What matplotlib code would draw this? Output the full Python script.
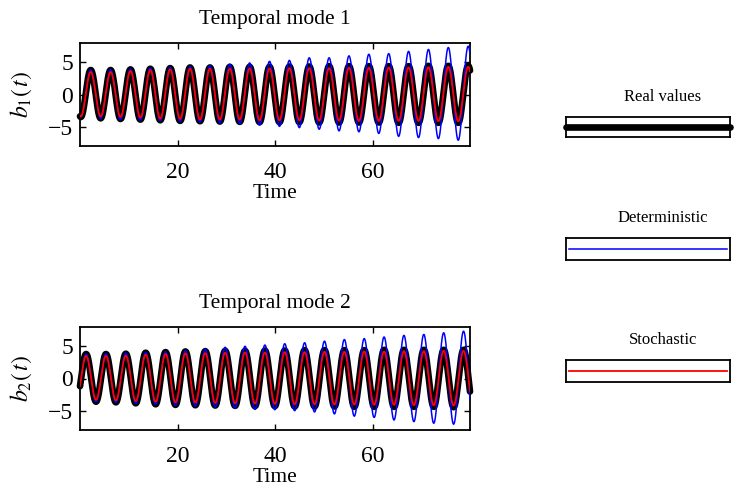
import numpy as np
import matplotlib
matplotlib.use('Agg')
import matplotlib.pyplot as plt

plt.rcParams['font.family'] = ['Liberation Serif', 'DejaVu Serif']
plt.rcParams['mathtext.fontset'] = 'stix'

# ---------------- data ----------------
period = 4.075
mode1_first_peak = 2.2      # time of first maximum of b1
mode2_first_peak = 1.25     # time of first maximum of b2

# Mode 1 : successive maxima / minima (one per oscillation)
m1_real_peaks = [3.8, 3.8, 3.9, 4.0, 4.1, 4.2, 4.2, 4.3, 4.3, 4.3,
                 4.35, 4.35, 4.4, 4.4, 4.4, 4.4, 4.4, 4.45, 4.45, 4.45]
m1_real_troughs = [-3.5, -3.7, -3.8, -3.9, -4.0, -4.1, -4.15, -4.2, -4.25, -4.3,
                   -4.3, -4.3, -4.35, -4.35, -4.35, -4.35, -4.4, -4.4, -4.4, -4.4]
m1_det_peaks = [3.8, 3.85, 3.95, 4.1, 4.2, 4.3, 4.45, 4.7, 4.9, 5.15,
                5.3, 5.7, 5.7, 6.0, 6.25, 6.35, 6.7, 7.0, 7.3, 7.5]
m1_det_troughs = [-3.5, -3.75, -3.9, -4.0, -4.1, -4.2, -4.3, -4.4, -4.5, -4.75,
                  -4.95, -5.15, -5.4, -5.65, -5.8, -6.05, -6.5, -6.7, -6.85, -7.1]
m1_sto_peaks = [3.5, 3.5, 3.65, 3.8, 3.9, 4.0, 4.0, 4.0, 4.05, 4.05,
                4.1, 4.1, 4.1, 4.15, 4.15, 4.2, 4.2, 4.25, 4.3, 4.3]
m1_sto_troughs = [-3.4, -3.4, -3.5, -3.6, -3.75, -3.8, -3.9, -3.9, -3.9, -4.0,
                  -4.0, -4.0, -4.05, -4.05, -4.1, -4.1, -4.1, -4.1, -4.15, -4.15]

# Mode 2
m2_real_peaks = [3.8, 3.8, 3.85, 4.0, 4.1, 4.2, 4.25, 4.3, 4.3, 4.35,
                 4.35, 4.4, 4.4, 4.4, 4.4, 4.45, 4.45, 4.45, 4.45, 4.45]
m2_real_troughs = [-3.6, -3.7, -3.85, -4.0, -4.1, -4.15, -4.2, -4.25, -4.3, -4.3,
                   -4.35, -4.35, -4.35, -4.4, -4.4, -4.4, -4.4, -4.4, -4.45, -4.45]
m2_det_peaks = [3.8, 3.85, 3.95, 4.05, 4.15, 4.3, 4.55, 4.85, 5.0, 5.2,
                5.4, 5.55, 5.8, 6.05, 6.2, 6.45, 6.7, 6.85, 7.1, 7.35]
m2_det_troughs = [-3.6, -3.7, -3.85, -4.0, -4.15, -4.3, -4.45, -4.6, -4.8, -4.85,
                  -5.0, -5.2, -5.5, -5.85, -6.05, -6.45, -6.7, -6.95, -7.1, -7.3]
m2_sto_peaks = [3.5, 3.5, 3.55, 3.7, 3.8, 3.9, 3.95, 4.0, 4.05, 4.05,
                4.1, 4.1, 4.15, 4.15, 4.2, 4.2, 4.25, 4.25, 4.3, 4.3]
m2_sto_troughs = [-3.3, -3.4, -3.5, -3.6, -3.7, -3.75, -3.8, -3.85, -3.9, -3.95,
                  -4.0, -4.0, -4.05, -4.05, -4.1, -4.1, -4.15, -4.15, -4.2, -4.2]

titles = ['Temporal mode 1', 'Temporal mode 2']
ylabels = [r'$b_1(\,t)$', r'$b_2(\,t)$']
x_ticks = [20, 40, 60]
y_ticks = [-5, 0, 5]
legend_names = ['Real values', 'Deterministic', 'Stochastic']
colors = {'real': 'black', 'det': '#0000ff', 'sto': '#ff0000'}

t = np.linspace(0.0, 80.0, 3001)


def through_extrema(tt, first_peak, T, peaks, troughs, trough_offset):
    """Smooth curve passing through the read maxima / minima."""
    et = [first_peak + k * T for k in range(len(peaks))] + \
         [first_peak + trough_offset + k * T for k in range(len(troughs))]
    ev = list(peaks) + list(troughs)
    order = np.argsort(et)
    et = np.asarray(et)[order]
    ev = np.asarray(ev)[order]
    et = np.concatenate([[et[0] - T / 2], et, [et[-1] + T / 2]])
    ev = np.concatenate([[ev[1]], ev, [ev[-2]]])
    i = np.searchsorted(et, tt, side='right') - 1
    t0, t1 = et[i], et[i + 1]
    v0, v1 = ev[i], ev[i + 1]
    frac = (tt - t0) / (t1 - t0)
    return (v0 + v1) / 2 + (v0 - v1) / 2 * np.cos(np.pi * frac)


modes = [
    (mode1_first_peak, -period / 2,
     (m1_real_peaks, m1_real_troughs), (m1_det_peaks, m1_det_troughs), (m1_sto_peaks, m1_sto_troughs)),
    (mode2_first_peak, period / 2,
     (m2_real_peaks, m2_real_troughs), (m2_det_peaks, m2_det_troughs), (m2_sto_peaks, m2_sto_troughs)),
]

fig = plt.figure(figsize=(7.44, 4.9), dpi=100)
W, H = 744.0, 490.0
axes_px = [(80, 43, 470, 146), (80, 327, 470, 430)]

for (x0, y0, x1, y1), mode, title, ylab in zip(axes_px, modes, titles, ylabels):
    ax = fig.add_axes([x0 / W, 1 - y1 / H, (x1 - x0) / W, (y1 - y0) / H])
    fp, toff, real, det, sto = mode
    yr = through_extrema(t, fp, period, real[0], real[1], toff)
    yd = through_extrema(t, fp, period, det[0], det[1], toff)
    ys = through_extrema(t, fp, period, sto[0], sto[1], toff)
    ax.plot(t, yr, color=colors['real'], lw=4.8, solid_capstyle='round', clip_on=False, zorder=2)
    ax.plot(t, yd, color=colors['det'], lw=1.1, zorder=3)
    ax.plot(t, ys, color=colors['sto'], lw=1.3, zorder=4)
    ax.set_xlim(0, 80)
    ax.set_ylim(-8, 8)
    ax.set_xticks(x_ticks)
    ax.set_yticks(y_ticks)
    ax.set_yticklabels(['\u22125', '0', '5'])
    ax.tick_params(direction='in', top=True, right=True, length=4, width=1.0,
                   labelsize=17)
    ax.tick_params(axis='x', pad=11.5)
    ax.tick_params(axis='y', pad=5)
    for s in ax.spines.values():
        s.set_linewidth(1.3)
    ax.set_title(title, fontsize=15.5, pad=14)
    ax.set_xlabel('Time', fontsize=15.5, labelpad=1)
    ax.set_ylabel(ylab, fontsize=17, labelpad=10)

# legend boxes
legend_boxes = [(566, 116.7, 730, 137.3), (566, 238, 730, 260), (566, 360, 730, 382)]
legend_title_y = [96.7, 218, 340]
legend_styles = [dict(color=colors['real'], lw=4.8, solid_capstyle='round', clip_on=False),
                 dict(color=colors['det'], lw=1.1),
                 dict(color=colors['sto'], lw=1.3)]
for (x0, y0, x1, y1), name, ty, st in zip(legend_boxes, legend_names, legend_title_y, legend_styles):
    lax = fig.add_axes([x0 / W, 1 - y1 / H, (x1 - x0) / W, (y1 - y0) / H])
    lax.set_xlim(0, 1)
    lax.set_ylim(0, 1)
    lax.set_xticks([])
    lax.set_yticks([])
    for s in lax.spines.values():
        s.set_linewidth(1.3)
    xs = [0.0, 1.0] if name == 'Real values' else [0.02, 0.98]
    lax.plot(xs, [0.5, 0.5], **st)
    fig.text(663 / W, 1 - ty / H, name, ha='center', va='center', fontsize=12)

fig.savefig('out.png', dpi=100)
